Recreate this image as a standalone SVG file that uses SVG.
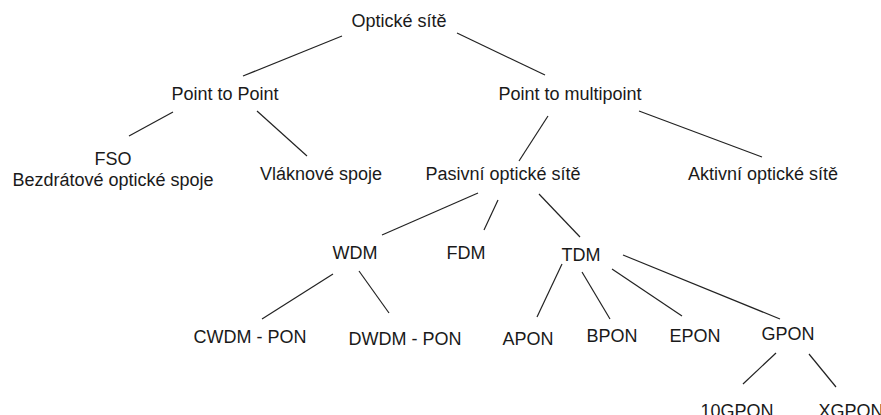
<svg xmlns="http://www.w3.org/2000/svg" width="881" height="415" viewBox="0 0 881 415">
<style>
text{font-family:"Liberation Sans",Arial,sans-serif;font-size:18px;fill:#1a1a1a;text-anchor:middle}
.c line{stroke:#222;stroke-width:1.2;fill:none}
</style>
<rect width="881" height="415" fill="#fff"/>
<g class="c" id="connectors">
<line x1="342" y1="36" x2="243" y2="76"/>
<line x1="457" y1="33" x2="545" y2="75"/>
<line x1="173" y1="112" x2="129" y2="136"/>
<line x1="257" y1="111" x2="307" y2="156"/>
<line x1="548" y1="116" x2="519" y2="161"/>
<line x1="639" y1="111" x2="762" y2="157"/>
<line x1="478" y1="193" x2="382" y2="235"/>
<line x1="498" y1="200" x2="484" y2="230"/>
<line x1="539" y1="194" x2="580" y2="237"/>
<line x1="333" y1="274" x2="262" y2="319"/>
<line x1="359" y1="271" x2="389" y2="313"/>
<line x1="562" y1="264" x2="537" y2="317"/>
<line x1="582" y1="272" x2="610" y2="319"/>
<line x1="612" y1="269" x2="682" y2="316"/>
<line x1="623" y1="255" x2="780" y2="319"/>
<line x1="776" y1="353" x2="743" y2="384"/>
<line x1="809" y1="354" x2="836" y2="387"/>
</g>
<g id="n-opticke-site"><text x="399" y="27">Optické sítě</text></g>
<g id="n-ptp"><text x="225" y="100">Point to Point</text></g>
<g id="n-ptm"><text x="570" y="100">Point to multipoint</text></g>
<g id="n-fso"><text x="113" y="165">FSO</text><text x="113" y="186">Bezdrátové optické spoje</text></g>
<g id="n-vlaknove"><text x="321" y="180">Vláknové spoje</text></g>
<g id="n-pasivni"><text x="503" y="180">Pasivní optické sítě</text></g>
<g id="n-aktivni"><text x="763" y="180">Aktivní optické sítě</text></g>
<g id="n-wdm"><text x="355" y="259">WDM</text></g>
<g id="n-fdm"><text x="466" y="259">FDM</text></g>
<g id="n-tdm"><text x="581" y="261">TDM</text></g>
<g id="n-cwdm"><text x="250" y="343">CWDM - PON</text></g>
<g id="n-dwdm"><text x="405" y="345">DWDM - PON</text></g>
<g id="n-apon"><text x="528" y="345">APON</text></g>
<g id="n-bpon"><text x="612" y="342">BPON</text></g>
<g id="n-epon"><text x="695" y="342">EPON</text></g>
<g id="n-gpon"><text x="788" y="340">GPON</text></g>
<g id="n-10gpon"><text x="737" y="417">10GPON</text></g>
<g id="n-xgpon"><text x="851" y="417">XGPON</text></g>
</svg>
